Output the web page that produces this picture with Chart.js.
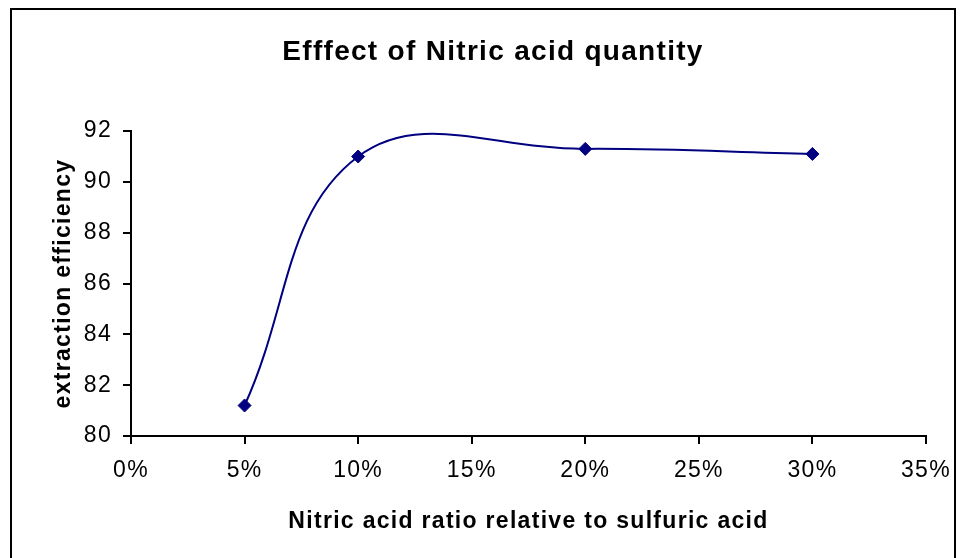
<!DOCTYPE html>
<html>
<head>
<meta charset="utf-8">
<script src="https://cdn.jsdelivr.net/npm/chart.js@4"></script>
<style>
  html, body { margin: 0; padding: 0; background: #ffffff; }
  #wrap { position: relative; width: 962px; height: 558px; overflow: hidden; background: #ffffff; }
  #frame { position: absolute; left: 10px; top: 8px; width: 946px; height: 600px; border: 2px solid #000; box-sizing: border-box; pointer-events: none; }
  canvas { position: absolute; left: 0; top: 0; }
</style>
</head>
<body>
<div id="wrap">
  <canvas id="c" width="962" height="558"></canvas>
  <div id="frame"></div>
</div>
<script>
// ---- data ----
const nitricRatio = [0.05, 0.10, 0.20, 0.30];
const extractionEfficiency = [81.2, 91.0, 91.3, 91.1];
const xTickValues = [0, 0.05, 0.10, 0.15, 0.20, 0.25, 0.30, 0.35];
const yTickValues = [80, 82, 84, 86, 88, 90, 92];
const chartTitle = 'Efffect of Nitric acid quantity';
const xTitle = 'Nitric acid ratio relative to sulfuric acid';
const yTitle = 'extraction efficiency';

const points = nitricRatio.map((x, i) => ({ x: x, y: extractionEfficiency[i] }));

const spacingPlugin = {
  id: 'spacing',
  beforeDraw(chart) { chart.ctx.letterSpacing = '1.3px'; }
};

new Chart(document.getElementById('c'), {
  type: 'line',
  data: {
    datasets: [{
      data: points,
      borderColor: '#000080',
      backgroundColor: '#000080',
      borderWidth: 2,
      tension: 0.4,
      cubicInterpolationMode: 'default',
      pointStyle: 'rectRot',
      pointRadius: 6.5,
      pointBorderWidth: 1,
      pointBorderColor: '#000080',
      pointBackgroundColor: '#000080',
      fill: false
    }]
  },
  options: {
    responsive: false,
    animation: false,
    devicePixelRatio: 1,
    layout: { padding: { left: 57, right: 33, top: 0, bottom: 0 } },
    elements: { line: { capBezierPoints: false } },
    plugins: {
      legend: { display: false },
      tooltip: { enabled: false },
      title: {
        display: true,
        text: chartTitle,
        color: '#000',
        font: { family: '"Liberation Sans", Arial, sans-serif', size: 28, weight: 'bold' },
        padding: { top: 35.5, bottom: 62 }
      }
    },
    scales: {
      x: {
        type: 'linear',
        min: xTickValues[0],
        max: xTickValues[xTickValues.length - 1],
        afterBuildTicks(scale) { scale.ticks = xTickValues.map(v => ({ value: v })); },
        afterFit(scale) { scale.height = 122; },
        ticks: {
          color: '#000',
          padding: 13,
          maxRotation: 0,
          font: { family: '"Liberation Sans", Arial, sans-serif', size: 23 },
          callback: v => Math.round(v * 100) + '%'
        },
        grid: { drawOnChartArea: false, drawTicks: true, tickLength: 8, color: '#000', lineWidth: 2 },
        border: { display: true, color: '#000', width: 2 },
        title: {
          display: true,
          text: xTitle,
          color: '#000',
          font: { family: '"Liberation Sans", Arial, sans-serif', size: 23, weight: 'bold' },
          padding: { top: 0, bottom: 23 }
        }
      },
      y: {
        type: 'linear',
        min: yTickValues[0],
        max: yTickValues[yTickValues.length - 1],
        afterBuildTicks(scale) { scale.ticks = yTickValues.map(v => ({ value: v })); },
        afterFit(scale) { scale.width = 74; },
        ticks: {
          color: '#000',
          padding: 11,
          font: { family: '"Liberation Sans", Arial, sans-serif', size: 23 }
        },
        grid: { drawOnChartArea: false, drawTicks: true, tickLength: 8, color: '#000', lineWidth: 2 },
        border: { display: true, color: '#000', width: 2 },
        title: {
          display: true,
          text: yTitle,
          color: '#000',
          font: { family: '"Liberation Sans", Arial, sans-serif', size: 23, weight: 'bold' },
          padding: { top: -7, bottom: 0 }
        }
      }
    }
  },
  plugins: [spacingPlugin]
});
</script>
</body>
</html>
